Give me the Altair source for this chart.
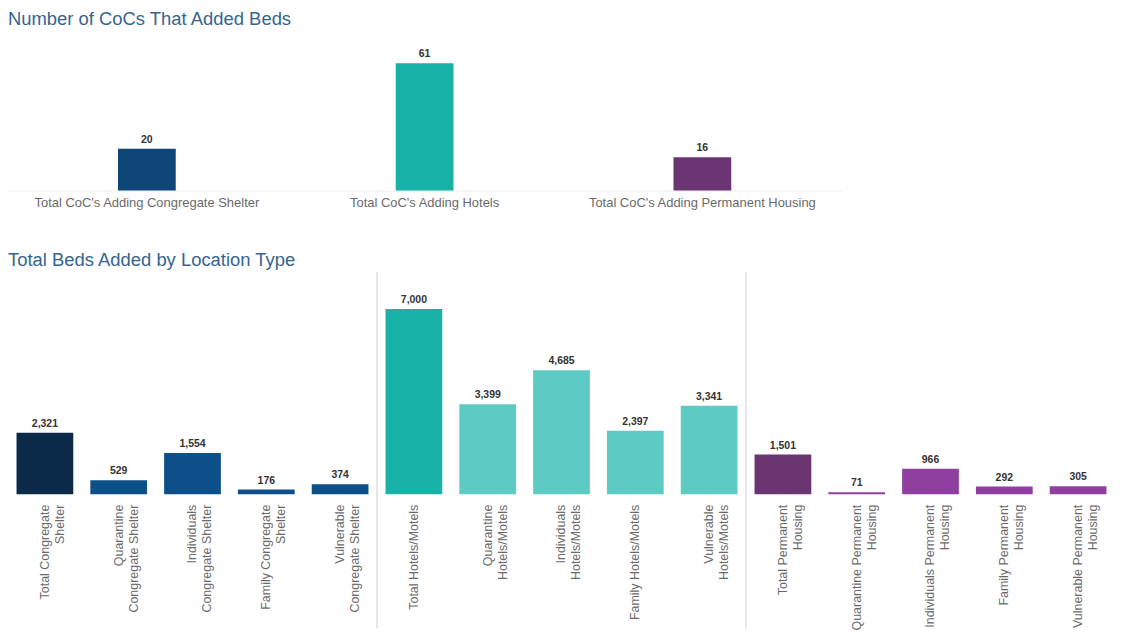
import altair as alt
import pandas as pd

FONT = "Liberation Sans"

top_cats = [
    "Total CoC's Adding Congregate Shelter",
    "Total CoC's Adding Hotels",
    "Total CoC's Adding Permanent Housing",
]
top_vals = [20, 61, 16]
top_colors = ["#0d4677", "#17b1a5", "#6b3574"]

bot_cats = [
    "Total Congregate|Shelter",
    "Quarantine|Congregate Shelter",
    "Individuals|Congregate Shelter",
    "Family Congregate|Shelter",
    "Vulnerable|Congregate Shelter",
    "Total Hotels/Motels",
    "Quarantine|Hotels/Motels",
    "Individuals|Hotels/Motels",
    "Family Hotels/Motels",
    "Vulnerable|Hotels/Motels",
    "Total Permanent|Housing",
    "Quarantine Permanent|Housing",
    "Individuals Permanent|Housing",
    "Family Permanent|Housing",
    "Vulnerable Permanent|Housing",
]
bot_vals = [2321, 529, 1554, 176, 374, 7000, 3399, 4685, 2397, 3341, 1501, 71, 966, 292, 305]
bot_colors = [
    "#0b2a4a", "#0d5089", "#0d5089", "#0d5089", "#0d5089",
    "#18b2a6", "#5ecac4", "#5ecac4", "#5ecac4", "#5ecac4",
    "#6a3570", "#8e3f9f", "#8e3f9f", "#8e3f9f", "#8e3f9f",
]
separators = ["Total Hotels/Motels", "Total Permanent|Housing"]

TITLE_COLOR = "#35658f"
LABEL_COLOR = "#6a6a6a"

# ---------- top chart ----------
top_df = pd.DataFrame({"coc": top_cats, "val": top_vals})
top_x = alt.X(
    "coc:N", sort=top_cats,
    scale=alt.Scale(paddingInner=0, paddingOuter=0),
    axis=alt.Axis(title=None, labelAngle=0, ticks=False, domainColor="#eeeeee",
                  labelColor=LABEL_COLOR, labelFontSize=13, labelPadding=6, labelFont=FONT,
                  labelLimit=0),
)
top_base = alt.Chart(top_df).encode(x=top_x)
top_bars = top_base.mark_bar(size=58).encode(
    y=alt.Y("val:Q", scale=alt.Scale(domain=[0, 71.5], nice=False), axis=None),
    color=alt.Color("coc:N", scale=alt.Scale(domain=top_cats, range=top_colors), legend=None),
)
top_text = top_base.mark_text(dy=-9, fontWeight="bold", fontSize=10.5, color="#333333", font=FONT).encode(
    y=alt.Y("val:Q"), text=alt.Text("val:Q", format=",")
)
top = (top_bars + top_text).properties(
    width=837, height=150,
    title=alt.TitleParams("Number of CoCs That Added Beds", anchor="start", fontSize=18.5,
                          color=TITLE_COLOR, font=FONT, fontWeight="normal", offset=13),
)

# ---------- bottom chart ----------
H = 215
bot_df = pd.DataFrame({"loc": bot_cats, "val": bot_vals})
sep_df = pd.DataFrame({"loc": separators})
bot_x = alt.X(
    "loc:N", sort=bot_cats,
    scale=alt.Scale(paddingInner=0, paddingOuter=0),
    axis=alt.Axis(title=None, labelAngle=-90, labelAlign="right", labelBaseline="middle",
                  ticks=False, domain=False, labelColor=LABEL_COLOR, labelFontSize=12.5,
                  labelPadding=10, labelFont=FONT, labelLineHeight=15, labelLimit=0,
                  labelExpr="split(datum.label, '|')"),
)
bot_base = alt.Chart(bot_df).encode(x=bot_x)
bot_bars = bot_base.mark_bar(size=57).encode(
    y=alt.Y("val:Q", scale=alt.Scale(domain=[0, 8090], nice=False), axis=None),
    color=alt.Color("loc:N", scale=alt.Scale(domain=bot_cats, range=bot_colors), legend=None),
)
bot_text = bot_base.mark_text(dy=-9, fontWeight="bold", fontSize=10.5, color="#333333", font=FONT).encode(
    y=alt.Y("val:Q"), text=alt.Text("val:Q", format=",")
)
rules = alt.Chart(sep_df).mark_rule(color="#cccccc", strokeWidth=1).encode(
    x=alt.X("loc:N", sort=bot_cats, bandPosition=0),
    y=alt.value(-8), y2=alt.value(H + 135),
)
bottom = (rules + bot_bars + bot_text).properties(
    width=1112, height=H,
    title=alt.TitleParams("Total Beds Added by Location Type", anchor="start", fontSize=18.5,
                          color=TITLE_COLOR, font=FONT, fontWeight="normal", offset=2),
)

chart = (
    alt.vconcat(top, bottom, spacing=42)
    .resolve_scale(color="independent")
    .configure(padding=0)
    .configure_view(stroke=None)
)
chart.save("out.html", embed_options={"renderer": "svg", "actions": False})
